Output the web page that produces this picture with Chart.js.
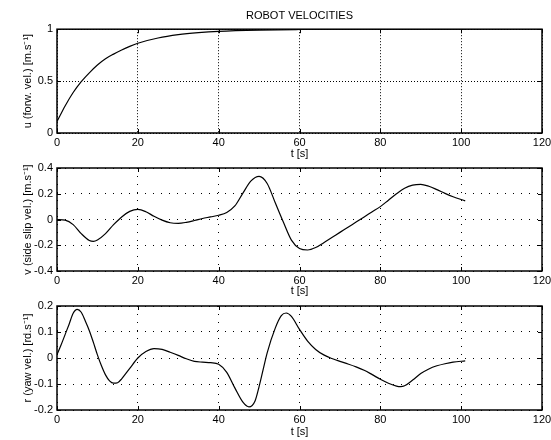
<!DOCTYPE html>
<html>
<head>
<meta charset="utf-8">
<script src="https://cdn.jsdelivr.net/npm/chart.js@4"></script>
<style>
  html, body { margin: 0; padding: 0; background: #fff; }
  #wrap { position: relative; width: 551px; height: 440px; overflow: hidden; }
  #wrap canvas { position: absolute; left: 0; }
</style>
</head>
<body>
<div id="wrap">
  <canvas id="chart-u" width="551" height="165" style="top:0px"></canvas>
  <canvas id="chart-v" width="551" height="165" style="top:140px"></canvas>
  <canvas id="chart-r" width="551" height="165" style="top:275px"></canvas>
</div>
<script>
// ─── data ────────────────────────────────────────────────────────────────────
const xTicks = [0, 20, 40, 60, 80, 100, 120];

// forward velocity
const tU    = [0, 2, 4, 6, 8, 10, 12, 14, 16, 18, 20, 25, 30, 35, 40, 50, 60, 70, 80, 90, 101];
const uVals = [0.11, 0.26, 0.39, 0.495, 0.58, 0.655, 0.715, 0.76, 0.80, 0.835, 0.865, 0.915, 0.947, 0.967, 0.98, 0.992, 0.997, 0.999, 1.0, 1.0, 1.0];
const uTicks = [0, 0.5, 1];

// side slip velocity
const tV    = [0, 2, 4, 6, 8, 9, 10, 12, 14, 16, 18, 20, 22, 24, 26, 28, 30, 32, 34, 36, 38, 40,
               42, 44, 46, 48, 50, 52, 54, 56, 58, 60, 62, 64, 66, 68, 70, 72, 74, 76, 78, 80,
               82, 84, 86, 88, 90, 92, 94, 96, 98, 101];
const vVals = [0.0, -0.005, -0.04, -0.11, -0.163, -0.17, -0.16, -0.11, -0.04, 0.02, 0.063, 0.078, 0.06, 0.025, -0.005, -0.025, -0.03, -0.022, -0.008, 0.008, 0.02, 0.033,
               0.055, 0.105, 0.205, 0.3, 0.335, 0.28, 0.13, -0.02, -0.16, -0.225, -0.237, -0.218, -0.18, -0.14, -0.1, -0.06, -0.02, 0.02, 0.06, 0.1,
               0.15, 0.2, 0.243, 0.267, 0.273, 0.258, 0.232, 0.203, 0.177, 0.145];
const vTicks = [-0.4, -0.2, 0, 0.2, 0.4];

// yaw velocity
const tR    = [0, 1, 2, 3, 4, 5, 6, 7, 8, 9, 10, 11, 12, 13, 14, 15, 16, 17, 18, 20, 22, 24, 26, 28, 30, 32, 34, 36, 38, 40,
               42, 44, 46, 47.5, 49, 50, 51, 52, 54, 55.5, 56.7, 58, 60, 62, 64, 66, 68, 70, 72, 74, 76, 78, 80,
               82, 84, 85, 86, 88, 90, 92, 94, 96, 98, 101];
const rVals = [0.013, 0.05, 0.09, 0.13, 0.172, 0.187, 0.176, 0.142, 0.105, 0.06, 0.012, -0.03, -0.065, -0.088, -0.097, -0.095, -0.08, -0.06, -0.04, 0.0, 0.025, 0.036, 0.033, 0.022, 0.01, -0.003, -0.013, -0.016, -0.018, -0.024,
               -0.055, -0.115, -0.17, -0.188, -0.165, -0.11, -0.045, 0.02, 0.115, 0.163, 0.173, 0.16, 0.11, 0.065, 0.033, 0.012, -0.002, -0.013, -0.023, -0.034, -0.047, -0.064, -0.082,
               -0.097, -0.108, -0.11, -0.107, -0.085, -0.06, -0.042, -0.03, -0.022, -0.016, -0.011];
const rTicks = [-0.2, -0.1, 0, 0.1, 0.2];

// ─── shared helpers ──────────────────────────────────────────────────────────
Chart.defaults.font.family = '"Liberation Sans", Arial, Helvetica, sans-serif';
Chart.defaults.font.size = 11;
Chart.defaults.color = '#000';

// box round the axes + inward tick marks, like the original plot
const boxPlugin = {
  id: 'matlabBox',
  afterDraw(chart) {
    const { ctx, chartArea: a, scales } = chart;
    const tl = 4;
    ctx.save();
    ctx.strokeStyle = '#000';
    ctx.lineWidth = 1;
    ctx.beginPath();
    scales.x.ticks.forEach(t => {
      const px = Math.round(scales.x.getPixelForValue(t.value)) + 0.5;
      ctx.moveTo(px, a.bottom); ctx.lineTo(px, a.bottom - tl);
      ctx.moveTo(px, a.top);    ctx.lineTo(px, a.top + tl);
    });
    scales.y.ticks.forEach(t => {
      const py = Math.round(scales.y.getPixelForValue(t.value)) + 0.5;
      ctx.moveTo(a.left, py);  ctx.lineTo(a.left + tl, py);
      ctx.moveTo(a.right, py); ctx.lineTo(a.right - tl, py);
    });
    ctx.stroke();
    ctx.lineWidth = 1.5;
    ctx.strokeRect(a.left, a.top, a.right - a.left, a.bottom - a.top);
    ctx.restore();
  }
};

function makePanel(id, tArr, yArr, yTicks, yTitle, pad, dash, title) {
  const pts = tArr.map((t, i) => ({ x: t, y: yArr[i] }));
  return new Chart(document.getElementById(id), {
    type: 'line',
    data: {
      datasets: [{
        data: pts,
        borderColor: '#000',
        borderWidth: 1.2,
        pointRadius: 0,
        cubicInterpolationMode: 'monotone',
        fill: false,
      }],
    },
    options: {
      responsive: false,
      animation: false,
      layout: { padding: { left: 15, right: 9, top: pad.top, bottom: pad.bottom } },
      plugins: {
        legend: { display: false },
        tooltip: { enabled: false },
        title: title ? {
          display: true, text: title, fullSize: false,
          font: { size: 11, weight: 'normal' }, color: '#000',
          padding: { top: 9, bottom: 7 },
        } : { display: false },
      },
      scales: {
        x: {
          type: 'linear', min: xTicks[0], max: xTicks[xTicks.length - 1],
          afterBuildTicks: s => { s.ticks = xTicks.map(v => ({ value: v })); },
          afterFit: s => { s.height = pad.axis; s.paddingLeft = 0; s.paddingRight = 0; },
          ticks: { padding: 3, maxRotation: 0, autoSkip: false, callback: v => String(v) },
          grid: { color: '#000', lineWidth: 1, drawTicks: false },
          border: { display: false, dash: dash },
          title: { display: true, text: 't [s]', padding: { top: 0, bottom: 1 }, font: { size: 11 } },
        },
        y: {
          type: 'linear', min: yTicks[0], max: yTicks[yTicks.length - 1],
          afterBuildTicks: s => { s.ticks = yTicks.map(v => ({ value: v })); },
          afterFit: s => { s.width = 42; s.paddingTop = 0; s.paddingBottom = 0; },
          ticks: { padding: 4, callback: v => String(v) },
          grid: { color: '#000', lineWidth: 1, drawTicks: false },
          border: { display: false, dash: dash },
          title: { display: true, text: yTitle, padding: { top: 6.5, bottom: 0 }, font: { size: 11 } },
        },
      },
    },
    plugins: [boxPlugin],
  });
}

makePanel('chart-u', tU, uVals, uTicks, 'u (forw. vel.) [m.s\u207B\u00B9]', { top: 0, bottom: 3, axis: 29 }, [1, 2], 'ROBOT VELOCITIES');
makePanel('chart-v', tV, vVals, vTicks, 'v (side slip vel.) [m.s\u207B\u00B9]', { top: 28, bottom: 6, axis: 28 }, [1, 7]);
makePanel('chart-r', tR, rVals, rTicks, 'r (yaw vel.) [rd.s\u207B\u00B9]', { top: 31, bottom: 0, axis: 30 }, [1, 7]);
</script>
</body>
</html>
